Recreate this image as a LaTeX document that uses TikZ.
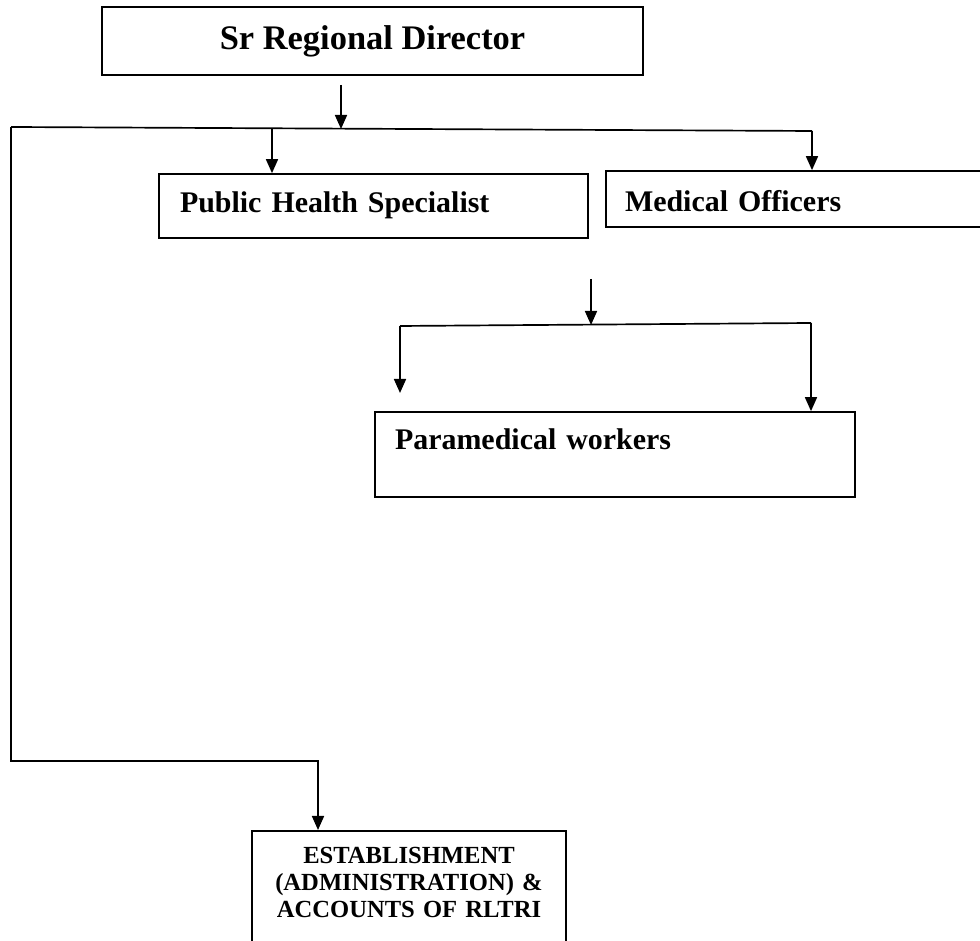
\documentclass[tikz,border=0pt]{standalone}
\usepackage{fontspec}
\setmainfont{Liberation Serif}
\usepackage{tikz}
\usetikzlibrary{arrows.meta, positioning}
\tikzstyle{block} = [draw=black, line width=1.2pt, inner ysep=0pt, font=\bfseries]
\tikzstyle{leftblock} = [block, align=left]
\tikzstyle{arrow} = [line width=1.2pt, -{Triangle[length=0.35cm, width=0.3cm]}]
\tikzstyle{wire} = [line width=1.2pt]

\begin{document}
\begin{tikzpicture}
				\useasboundingbox (0, 0) rectangle (24.5, 23.525);
				\clip (0, 0) rectangle (24.5, 23.525);

				\node (Director) [block, minimum width=13.525cm, text height=1.075cm, text depth=0.625cm,
					font=\bfseries\fontsize{24.5}{28}\selectfont] at (9.3125, 22.5) {Sr Regional Director};
				\coordinate (DirOut) at (8.525, 21.4);
				\coordinate (BusMid) at (8.525, 20.3);
				\draw [arrow] (DirOut) -- (BusMid);

				\coordinate (BusL) at (0.275, 20.35);
				\coordinate (BusR) at (20.3, 20.25);
				\draw [wire] (BusL) -- (BusR);

				\node (Specialist) [leftblock, inner xsep=0.525cm, text width=9.675cm, text height=0.975cm, text depth=0.625cm,
					font=\bfseries\fontsize{21.3}{24}\selectfont] at (9.3375, 18.375) {Public Health Specialist};
				\coordinate (SpecDrop) at (6.8, 20.3);
				\draw [arrow] (SpecDrop) -- (SpecDrop |- Specialist.north);

				\node (Officers) [leftblock, inner xsep=0.475cm, text width=9.55cm, text height=1.025cm, text depth=0.375cm,
					font=\bfseries\fontsize{21.3}{24}\selectfont] at (20.4, 18.55) {Medical Officers};
				\draw [arrow] (BusR) -- (BusR |- Officers.north);

				\coordinate (ParaIn) at (14.775, 16.55);
				\coordinate (ParaMid) at (14.775, 15.4);
				\draw [arrow] (ParaIn) -- (ParaMid);
				\coordinate (ParaL) at (10.0, 15.375);
				\coordinate (ParaR) at (20.275, 15.45);
				\draw [wire] (ParaL) -- (ParaR);
				\coordinate (ParaLEnd) at (10.0, 13.7);
				\draw [arrow] (ParaL) -- (ParaLEnd);

				\node (Paramedics) [leftblock, inner xsep=0.5cm, text width=11cm, text height=0.95cm, text depth=1.175cm,
					font=\bfseries\fontsize{21.3}{24}\selectfont] at (15.375, 12.1625) {Paramedical workers};
				\draw [arrow] (ParaR) -- (ParaR |- Paramedics.north);

				\node (Establishment) [block, anchor=north, align=center, inner xsep=0pt, text width=7.85cm,
					text height=0.825cm, text depth=4cm, font=\bfseries\fontsize{17.5}{19.2}\selectfont]
					at (10.225, 2.775) {ESTABLISHMENT\\(ADMINISTRATION) \&\\ACCOUNTS OF RLTRI};
				\coordinate (EstDrop) at (7.95, 4.5);
				\draw [arrow] (BusL) |- (EstDrop) -- (EstDrop |- Establishment.north);
			\end{tikzpicture}
\end{document}
